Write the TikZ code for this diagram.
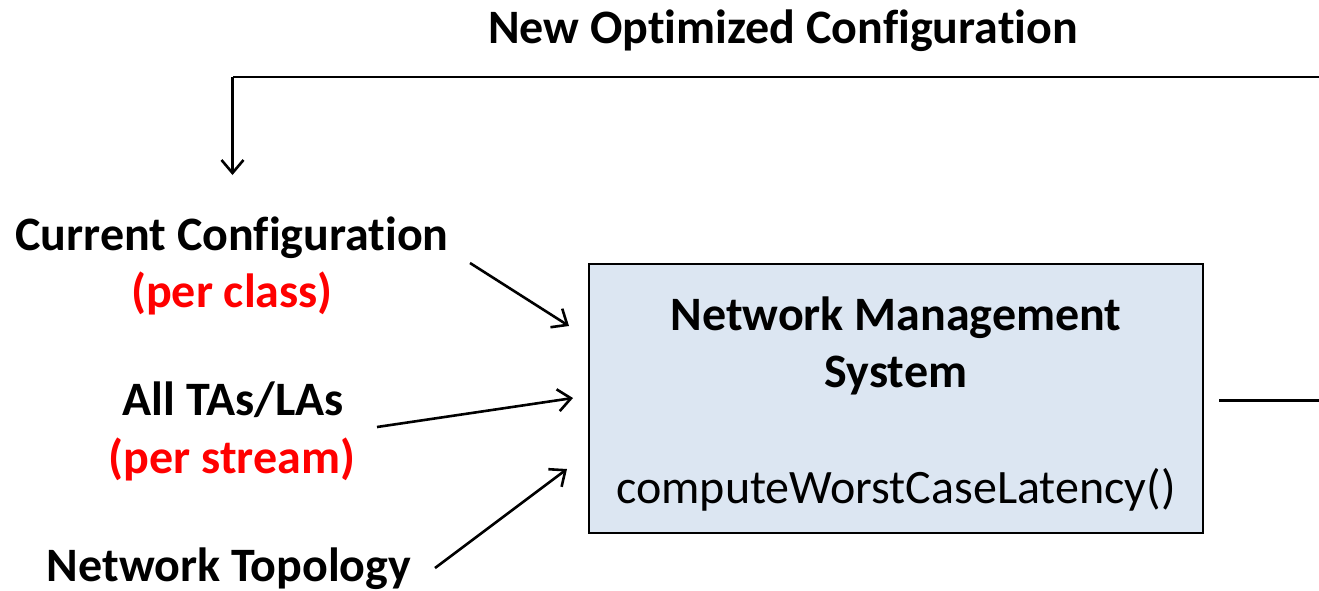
\documentclass[tikz,border=0pt]{standalone}
\usepackage{fontspec}
\setmainfont{Carlito}[Ligatures=NoCommon]
\usetikzlibrary{arrows.meta}
\definecolor{boxfill}{HTML}{DCE6F2}
\definecolor{lblred}{HTML}{FF0000}
\tikzset{
  lbl/.style={font=\fontsize{48}{54}\selectfont\bfseries, anchor=base, inner sep=0pt},
  redlbl/.style={lbl, text=lblred},
  conn/.style={line width=2.6pt, draw=black},
  arr/.style={conn, -{Straight Barb[length=13pt,width=22pt,line width=2.6pt]}},
  nms/.style={draw=black, line width=2.6pt, fill=boxfill, minimum width=614pt, minimum height=269pt, inner sep=0pt}
}
\begin{document}
\begin{tikzpicture}[x=1pt,y=-1pt]
\useasboundingbox (0,0) rectangle (1319,590);
% box
\node[nms] (box) at (896,398.5) {};
\node[lbl] (t1) at (896,330) {Network Management};
\node[lbl] (t2) at (896,387) {System};
\node[lbl, font=\fontsize{48}{54}\selectfont] (t3) at (896,503) {computeWorstCaseLatency()};
% title
\node[lbl] (title) at (783,43) {New Optimized Configuration};
% left labels
\node[lbl] (cc) at (232,250) {Current Configuration};
\node[redlbl] (pc) at (232,307) {(per class)};
\node[lbl] (all) at (233,415) {All TAs/LAs};
\node[redlbl] (ps) at (232,473) {(per stream)};
\node[lbl] (nt) at (229,581) {Network Topology};
% connector coordinates
\coordinate (fbR) at (1319,77);
\coordinate (fbL) at (232.5,77);
\coordinate (fbT) at (232.5,175);
\coordinate (outS) at (1219,400.5);
\coordinate (outE) at (1319,400.5);
\coordinate (a1s) at (470,263);
\coordinate (a1e) at (569,326);
\coordinate (a2s) at (377,427);
\coordinate (a2e) at (573,398);
\coordinate (a3s) at (435,568);
\coordinate (a3e) at (567,469);
\draw[conn] (fbR) -- (fbL);
\draw[arr] (fbL) -- (fbT);
\draw[conn] (outS) -- (outE);
\draw[arr] (a1s) -- (a1e);
\draw[arr] (a2s) -- (a2e);
\draw[arr] (a3s) -- (a3e);
\end{tikzpicture}
\end{document}
